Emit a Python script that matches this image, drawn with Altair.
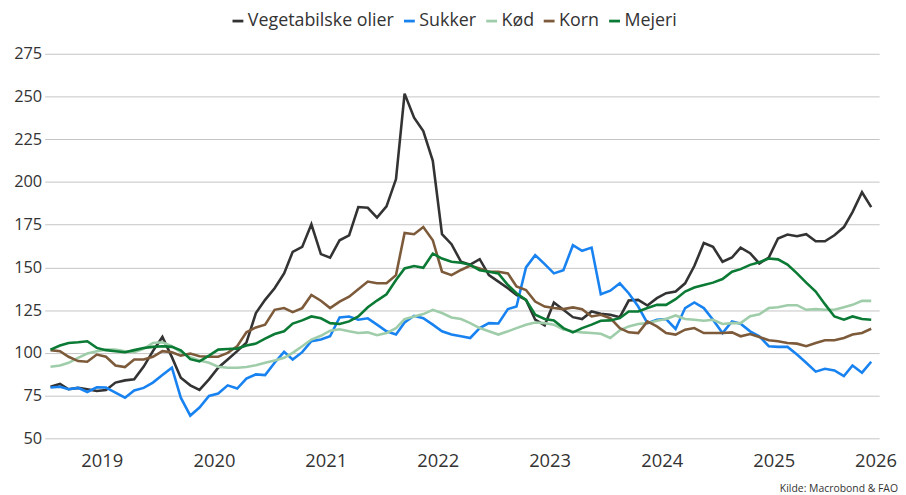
import altair as alt
import pandas as pd

series_names = ["Vegetabilske olier", "Sukker", "Kød", "Korn", "Mejeri"]
series_colors = ["#333333", "#1883f0", "#9fcdaa", "#7c5a3a", "#0b7a34"]
start_month = "2019-01-01"
n_months = 89

veg = [80.2, 81.8, 78.7, 79.5, 78.7, 77.7, 78.3, 82.6, 83.9, 84.5,
       92.0, 101.0, 109.3, 97.5, 85.5, 81.0, 78.3, 84.5, 91.3, 96.1,
       101.0, 106.0, 123.3, 131.0, 137.8, 146.5, 159.1, 162.0, 175.2, 157.8,
       155.7, 165.9, 168.8, 185.3, 184.9, 179.1, 185.7, 201.7, 251.7, 237.6,
       229.8, 212.4, 169.4, 163.6, 153.3, 151.6, 154.8, 145.5, 141.7, 137.8,
       133.9, 131.0, 119.4, 116.1, 129.5, 125.2, 120.9, 119.8, 124.2, 122.9,
       122.3, 120.9, 130.6, 131.0, 127.7, 132.0, 134.9, 135.9, 140.7, 150.8,
       164.3, 162.0, 153.3, 155.8, 161.6, 158.3, 152.3, 155.8, 166.9, 169.2,
       168.2, 169.4, 165.3, 165.3, 168.8, 173.6, 182.4, 194.0, 185.3]

sukker = [79.7, 80.2, 78.7, 79.5, 77.1, 79.8, 79.7, 76.7, 73.8, 78.0,
          79.5, 82.6, 87.0, 91.3, 73.8, 63.3, 68.0, 74.8, 76.2, 81.0,
          79.1, 84.9, 87.4, 87.0, 94.2, 100.6, 96.1, 100.4, 106.8, 107.8,
          109.7, 120.7, 121.3, 119.4, 120.2, 116.5, 112.6, 110.7, 117.8, 121.7,
          120.3, 116.5, 112.6, 110.7, 109.7, 108.7, 114.5, 117.4, 117.2, 125.6,
          127.1, 150.0, 157.2, 151.9, 146.5, 148.4, 163.0, 159.7, 161.6, 134.3,
          136.4, 140.7, 134.9, 127.1, 117.4, 119.4, 119.8, 114.0, 126.2, 129.5,
          126.2, 119.4, 111.6, 118.4, 117.1, 112.6, 109.7, 103.9, 103.5, 103.5,
          99.0, 94.2, 89.0, 90.7, 89.7, 86.4, 92.6, 88.4, 94.8]

kod = [91.9, 92.6, 94.2, 97.1, 99.6, 101.0, 101.9, 101.9, 101.0, 100.4,
       102.3, 105.8, 106.2, 103.9, 100.4, 97.5, 95.5, 94.2, 91.9, 91.3,
       91.3, 91.7, 92.8, 94.2, 95.5, 97.1, 100.0, 103.9, 107.8, 110.0,
       113.0, 113.8, 112.6, 111.6, 112.0, 110.3, 111.6, 114.5, 119.8, 121.3,
       122.7, 125.2, 123.3, 120.7, 119.8, 117.4, 114.5, 112.6, 110.7, 112.6,
       114.5, 116.5, 117.8, 117.4, 116.5, 113.6, 112.6, 112.0, 111.6, 111.2,
       108.7, 113.2, 115.5, 116.9, 117.4, 118.8, 119.8, 121.9, 119.8, 119.4,
       118.8, 119.4, 116.9, 117.4, 117.4, 121.5, 122.6, 126.2, 126.7, 127.9,
       127.9, 125.2, 125.6, 125.2, 125.2, 126.7, 128.1, 130.4, 130.4]

korn = [101.6, 101.0, 97.7, 95.2, 94.8, 99.0, 97.7, 92.6, 91.7, 96.1,
        96.1, 97.7, 101.0, 100.4, 98.4, 99.6, 98.0, 97.7, 97.7, 100.0,
        103.9, 112.0, 114.9, 116.5, 125.2, 126.2, 123.8, 126.2, 133.9, 130.5,
        126.2, 130.0, 132.9, 137.2, 141.7, 140.7, 140.7, 145.5, 170.2, 169.4,
        173.6, 165.9, 147.5, 145.5, 148.5, 151.0, 149.4, 147.5, 147.5, 146.5,
        138.8, 136.8, 130.0, 127.1, 126.2, 125.6, 126.6, 125.6, 121.3, 122.3,
        120.3, 114.5, 112.0, 111.6, 118.4, 115.5, 111.6, 110.7, 113.6, 114.5,
        111.6, 111.6, 111.6, 112.0, 109.7, 111.0, 109.3, 107.4, 106.8, 105.8,
        105.4, 103.9, 105.8, 107.4, 107.4, 108.7, 110.7, 111.6, 114.1]

mejeri = [101.9, 104.3, 105.8, 106.2, 106.8, 102.9, 101.6, 101.0, 100.4, 101.6,
          102.9, 103.5, 103.9, 103.5, 101.5, 96.3, 95.0, 98.4, 101.9, 102.3,
          102.5, 104.3, 105.4, 108.3, 111.0, 112.6, 117.1, 119.0, 121.3, 120.2,
          117.4, 116.9, 118.4, 121.3, 126.7, 130.6, 134.3, 142.6, 149.4, 150.8,
          149.8, 158.1, 155.2, 153.3, 152.7, 151.5, 148.4, 147.5, 146.5, 139.7,
          134.9, 131.0, 122.3, 119.8, 119.0, 114.5, 112.0, 114.5, 116.5, 118.8,
          119.0, 120.3, 124.2, 124.2, 126.2, 128.1, 128.1, 131.4, 135.9, 138.2,
          139.7, 141.1, 143.2, 147.5, 149.0, 151.5, 153.0, 155.2, 154.7, 151.7,
          146.5, 141.1, 135.9, 128.5, 121.3, 119.4, 121.3, 119.8, 119.4]

y_ticks = [50, 75, 100, 125, 150, 175, 200, 225, 250, 275]
x_label_dates = ["2019-07-01", "2020-07-01", "2021-07-01", "2022-07-01",
                 "2023-07-01", "2024-07-01", "2025-07-01", "2026-05-29"]
source_text = "Kilde: Macrobond & FAO"

FONT = "Open Sans"
TEXT = "#333333"

dates = pd.date_range(start_month, periods=n_months, freq="MS") + pd.Timedelta(days=14)
values = {"Vegetabilske olier": veg, "Sukker": sukker, "Kød": kod,
          "Korn": korn, "Mejeri": mejeri}
rows = []
for name in series_names:
    for d, v in zip(dates, values[name]):
        rows.append({"date": d.strftime("%Y-%m-%d"), "serie": name, "value": v})
df = pd.DataFrame(rows)

x_scale = alt.Scale(domain=[alt.DateTime(year=2018, month=12, date=27),
                            alt.DateTime(year=2026, month=6, date=10)])

lines = alt.Chart(df).mark_line(strokeWidth=2.6, strokeJoin="miter").encode(
    x=alt.X("date:T", scale=x_scale,
            axis=alt.Axis(title=None, values=x_label_dates, format="%Y",
                          grid=False, domain=False, ticks=False,
                          labelFontSize=18.5, labelFont=FONT, labelColor=TEXT,
                          labelPadding=13, labelFlush=False, labelBound=False,
                          labelOverlap=False)),
    y=alt.Y("value:Q", scale=alt.Scale(domain=[50, 275], nice=False, zero=False),
            axis=alt.Axis(title=None, values=y_ticks, grid=True,
                          gridColor="#c4c4c4", gridWidth=1, domain=False,
                          ticks=False, labelFontSize=16.5, labelFont=FONT,
                          labelColor=TEXT, labelPadding=3)),
    color=alt.Color("serie:N",
                    scale=alt.Scale(domain=series_names, range=series_colors),
                    sort=series_names,
                    legend=alt.Legend(title=None, orient="none", direction="horizontal",
                                      legendX=186, legendY=-42,
                                      symbolType="stroke", symbolSize=120,
                                      symbolStrokeWidth=2.8, labelFontSize=18,
                                      labelFont=FONT, labelColor=TEXT,
                                      labelOffset=1, columnPadding=3)),
    order=alt.Order("date:T"),
)

source = alt.Chart(pd.DataFrame({"t": [source_text]})).mark_text(
    align="right", baseline="middle", fontSize=10.5, font=FONT, color=TEXT
).encode(text="t:N", x=alt.value(861), y=alt.value(439))

chart = alt.layer(lines, source).properties(
    width=842, height=388,
    autosize=alt.AutoSizeParams(type="none"),
    padding={"left": 37, "top": 44, "right": 19, "bottom": 55},
).configure_view(stroke=None)

chart.save("out.html", embed_options={"renderer": "svg", "actions": False})
